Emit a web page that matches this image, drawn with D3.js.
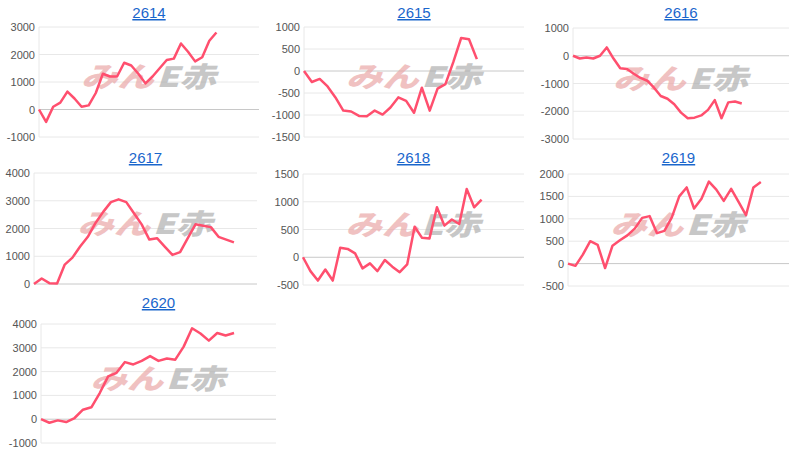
<!DOCTYPE html><html><head><meta charset="utf-8"><script src="https://cdn.jsdelivr.net/npm/d3@7"></script>
<style>body{margin:0;background:#fff;font-family:Arial,"Liberation Sans",sans-serif}</style></head><body>
<svg id="c" width="800" height="455"></svg>
<script>
const titles=["2614","2615","2616","2617","2618","2619","2620"];
const s2614=[0,-450,100,250,650,400,100,150,600,1300,1200,1200,1700,1600,1300,950,1200,1500,1800,1850,2400,2100,1750,1900,2500,2800];
const s2615=[0,-250,-180,-350,-600,-900,-920,-1020,-1030,-900,-990,-830,-600,-680,-950,-380,-900,-400,-300,200,750,720,270];
const s2616=[0,-100,-60,-100,0,300,-100,-450,-480,-650,-800,-900,-1150,-1450,-1550,-1750,-2050,-2250,-2230,-2150,-1950,-1600,-2250,-1680,-1650,-1720];
const s2617=[0,200,30,20,700,950,1350,1700,2200,2600,2950,3050,2950,2550,2150,1600,1650,1350,1050,1150,1650,2150,2100,2050,1700,1600,1500];
const s2618=[0,-250,-420,-220,-420,170,150,70,-200,-110,-250,-50,-170,-270,-130,550,350,340,900,570,680,600,1230,900,1040];
const s2619=[0,-50,200,500,420,-100,400,520,630,780,1020,1060,680,730,1030,1500,1700,1230,1450,1830,1650,1400,1670,1380,1080,1700,1820];
const s2620=[0,-150,-50,-120,50,400,500,1100,1800,1950,2400,2300,2450,2650,2450,2550,2500,3050,3820,3600,3300,3620,3520,3620];
const series=[s2614,s2615,s2616,s2617,s2618,s2619,s2620];
const yTicks=[[-1000,0,1000,2000,3000],[-1500,-1000,-500,0,500,1000],[-3000,-2000,-1000,0,1000],[0,1000,2000,3000,4000],[-500,0,500,1000,1500],[-500,0,500,1000,1500,2000],[-1000,0,1000,2000,3000,4000]];
const xSlots=[31,28,32,29,29.7,29.8,28];
const boxes=[[39,259,27,137,13],[304,524,27,137,13],[573,789,28,139,13],[34,257,173,284,158],[303,524,174,285,158],[568,789,174,286,158],[41,276,324,443,303]];
const svg=d3.select("#c");
series.forEach((d,k)=>{
  const [x0,x1,yt,yb,ty]=boxes[k], t=yTicks[k];
  const g=svg.append("g");
  const x=d3.scaleLinear().domain([0,xSlots[k]]).range([x0,x1]);
  const y=d3.scaleLinear().domain([t[0],t[t.length-1]]).range([yb,yt]);
  g.append("g").selectAll("line").data(t).join("line").attr("x1",x0).attr("x2",x1)
    .attr("y1",v=>y(v)).attr("y2",v=>y(v)).attr("stroke",v=>v===0?"#c8c8c8":"#e8e8e8").attr("stroke-width",1);
  g.append("line").attr("x1",x0).attr("x2",x0).attr("y1",yt).attr("y2",yb).attr("stroke","#e8e8e8");
  g.append("g").selectAll("text").data(t).join("text").attr("x",x0-4).attr("y",v=>y(v)+4)
    .attr("text-anchor","end").attr("font-size",11).attr("fill","#555").text(v=>v);
  const cx=(x0+x1)/2+6, cy=(yt+yb)/2+5;
  const wm=g.append("g").attr("transform",`translate(${cx},${cy}) scale(1.3,1)`);
  wm.append("text").attr("x",-1).attr("y",0).attr("text-anchor","end").attr("font-size",28).attr("font-weight","900")
    .attr("font-style","italic").attr("fill","#eaa8a8").attr("opacity",0.7).attr("font-family","Noto Sans CJK JP").text("みん");
  wm.append("text").attr("x",1).attr("y",0).attr("text-anchor","start").attr("font-size",28).attr("font-weight","900")
    .attr("font-style","italic").attr("fill","#b0b0b0").attr("opacity",0.7).attr("font-family","Noto Sans CJK JP").text("E赤");
  g.append("path").datum(d).attr("fill","none").attr("stroke","#ff4f6e").attr("stroke-width",2.5).attr("stroke-linejoin","round")
    .attr("d",d3.line().x((v,i)=>x(i)).y(v=>y(v)));
  g.append("text").attr("x",(x0+x1)/2).attr("y",ty+5).attr("text-anchor","middle").attr("font-size",15)
    .attr("fill","#1a66cc").attr("text-decoration","underline").text(titles[k]);
});
</script></body></html>
